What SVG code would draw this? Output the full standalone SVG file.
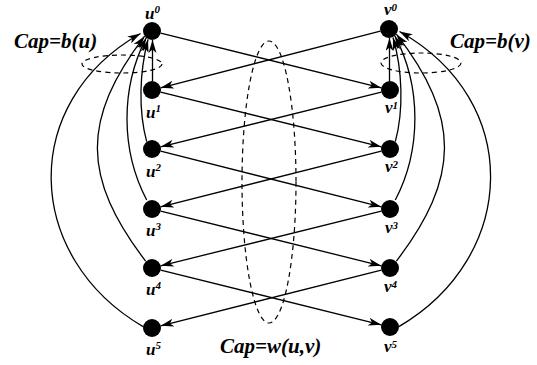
<svg xmlns="http://www.w3.org/2000/svg" width="537" height="365" viewBox="0 0 537 365">
<defs>
<marker id="ah" markerUnits="userSpaceOnUse" markerWidth="15" markerHeight="8" refX="13" refY="4" orient="auto" viewBox="0 0 15 8"><path d="M0,0 L13,4 L0,8 L3.5,4 Z" fill="#000"/></marker>
</defs>
<style>
.e{fill:none;stroke:#000;stroke-width:1.3;marker-end:url(#ah)}
.d{fill:none;stroke:#000;stroke-width:1.2;stroke-dasharray:5,4}
.n{fill:#000}
.t{font-family:"Liberation Serif","Times New Roman",serif;font-weight:bold;font-style:italic;fill:#000}
.l{font-size:17px}
.s{font-size:11px}
.c{font-size:21px}
</style>
<rect width="537" height="365" fill="#fff"/>
<g id="connectors">
<path class="e" d="M160.7,33.2 L381.3,87.8"/>
<path class="e" d="M380.3,31.2 L160.7,87.8"/>
<path class="e" d="M160.7,92.2 L381.3,146.8"/>
<path class="e" d="M381.3,92.2 L160.7,146.8"/>
<path class="e" d="M160.7,151.2 L381.3,206.8"/>
<path class="e" d="M381.3,151.2 L160.7,206.8"/>
<path class="e" d="M160.7,211.2 L381.3,265.8"/>
<path class="e" d="M381.3,211.2 L160.7,265.8"/>
<path class="e" d="M160.7,270.2 L381.3,324.8"/>
<path class="e" d="M381.3,270.2 L160.7,325.8"/>
<path class="e" d="M152.5,81 L152.5,40"/>
<path class="e" d="M146.7,141.7 C138.2,110 139.5,72 148,39.5"/>
<path class="e" d="M146.7,200 C120.5,150 120.5,88 146.2,37.9"/>
<path class="e" d="M145.6,261.1 C82,177.5 81,119.8 144.6,36.2"/>
<path class="e" d="M143.1,326.6 C24,257 18,103 140.5,33.5"/>
<path class="e" d="M389.5,81 L389.5,38"/>
<path class="e" d="M395.3,141.7 C403.8,110 402.5,70 393,37.5"/>
<path class="e" d="M395.3,200 C421.5,150 421.5,86 394.8,35.9"/>
<path class="e" d="M396.4,261.1 C460,177.5 461,117.8 396.4,34.2"/>
<path class="e" d="M398.9,326.6 C518,257 524,101 399.5,31.5"/>
</g>
<g id="cap-u"><ellipse class="d" cx="122" cy="64" rx="40" ry="9"/><text class="t c" x="14" y="48">Cap=b(u)</text></g>
<g id="cap-v"><ellipse class="d" cx="421" cy="63" rx="40" ry="10"/><text class="t c" x="450" y="48">Cap=b(v)</text></g>
<g id="cap-w"><ellipse class="d" cx="269" cy="182" rx="27" ry="141"/><text class="t c" x="220" y="353">Cap=w(u,v)</text></g>
<g id="u0"><circle class="n" cx="152" cy="31" r="9"/><text class="t l" x="145" y="19">u<tspan class="s" dy="-6">0</tspan></text></g>
<g id="u1"><circle class="n" cx="152" cy="90" r="9"/><text class="t l" x="146" y="118">u<tspan class="s" dy="-6">1</tspan></text></g>
<g id="u2"><circle class="n" cx="152" cy="149" r="9"/><text class="t l" x="146" y="177">u<tspan class="s" dy="-6">2</tspan></text></g>
<g id="u3"><circle class="n" cx="152" cy="209" r="9"/><text class="t l" x="146" y="236">u<tspan class="s" dy="-6">3</tspan></text></g>
<g id="u4"><circle class="n" cx="152" cy="268" r="9"/><text class="t l" x="146" y="295">u<tspan class="s" dy="-6">4</tspan></text></g>
<g id="u5"><circle class="n" cx="152" cy="328" r="9"/><text class="t l" x="146" y="355">u<tspan class="s" dy="-6">5</tspan></text></g>
<g id="v0"><circle class="n" cx="389" cy="29" r="9"/><text class="t l" x="384" y="15">v<tspan class="s" dy="-4">0</tspan></text></g>
<g id="v1"><circle class="n" cx="390" cy="90" r="9"/><text class="t l" x="385" y="113">v<tspan class="s" dy="-4">1</tspan></text></g>
<g id="v2"><circle class="n" cx="390" cy="149" r="9"/><text class="t l" x="385" y="172">v<tspan class="s" dy="-4">2</tspan></text></g>
<g id="v3"><circle class="n" cx="390" cy="209" r="9"/><text class="t l" x="385" y="233">v<tspan class="s" dy="-4">3</tspan></text></g>
<g id="v4"><circle class="n" cx="390" cy="268" r="9"/><text class="t l" x="384" y="292">v<tspan class="s" dy="-4">4</tspan></text></g>
<g id="v5"><circle class="n" cx="390" cy="327" r="9"/><text class="t l" x="384" y="352">v<tspan class="s" dy="-4">5</tspan></text></g>
</svg>
